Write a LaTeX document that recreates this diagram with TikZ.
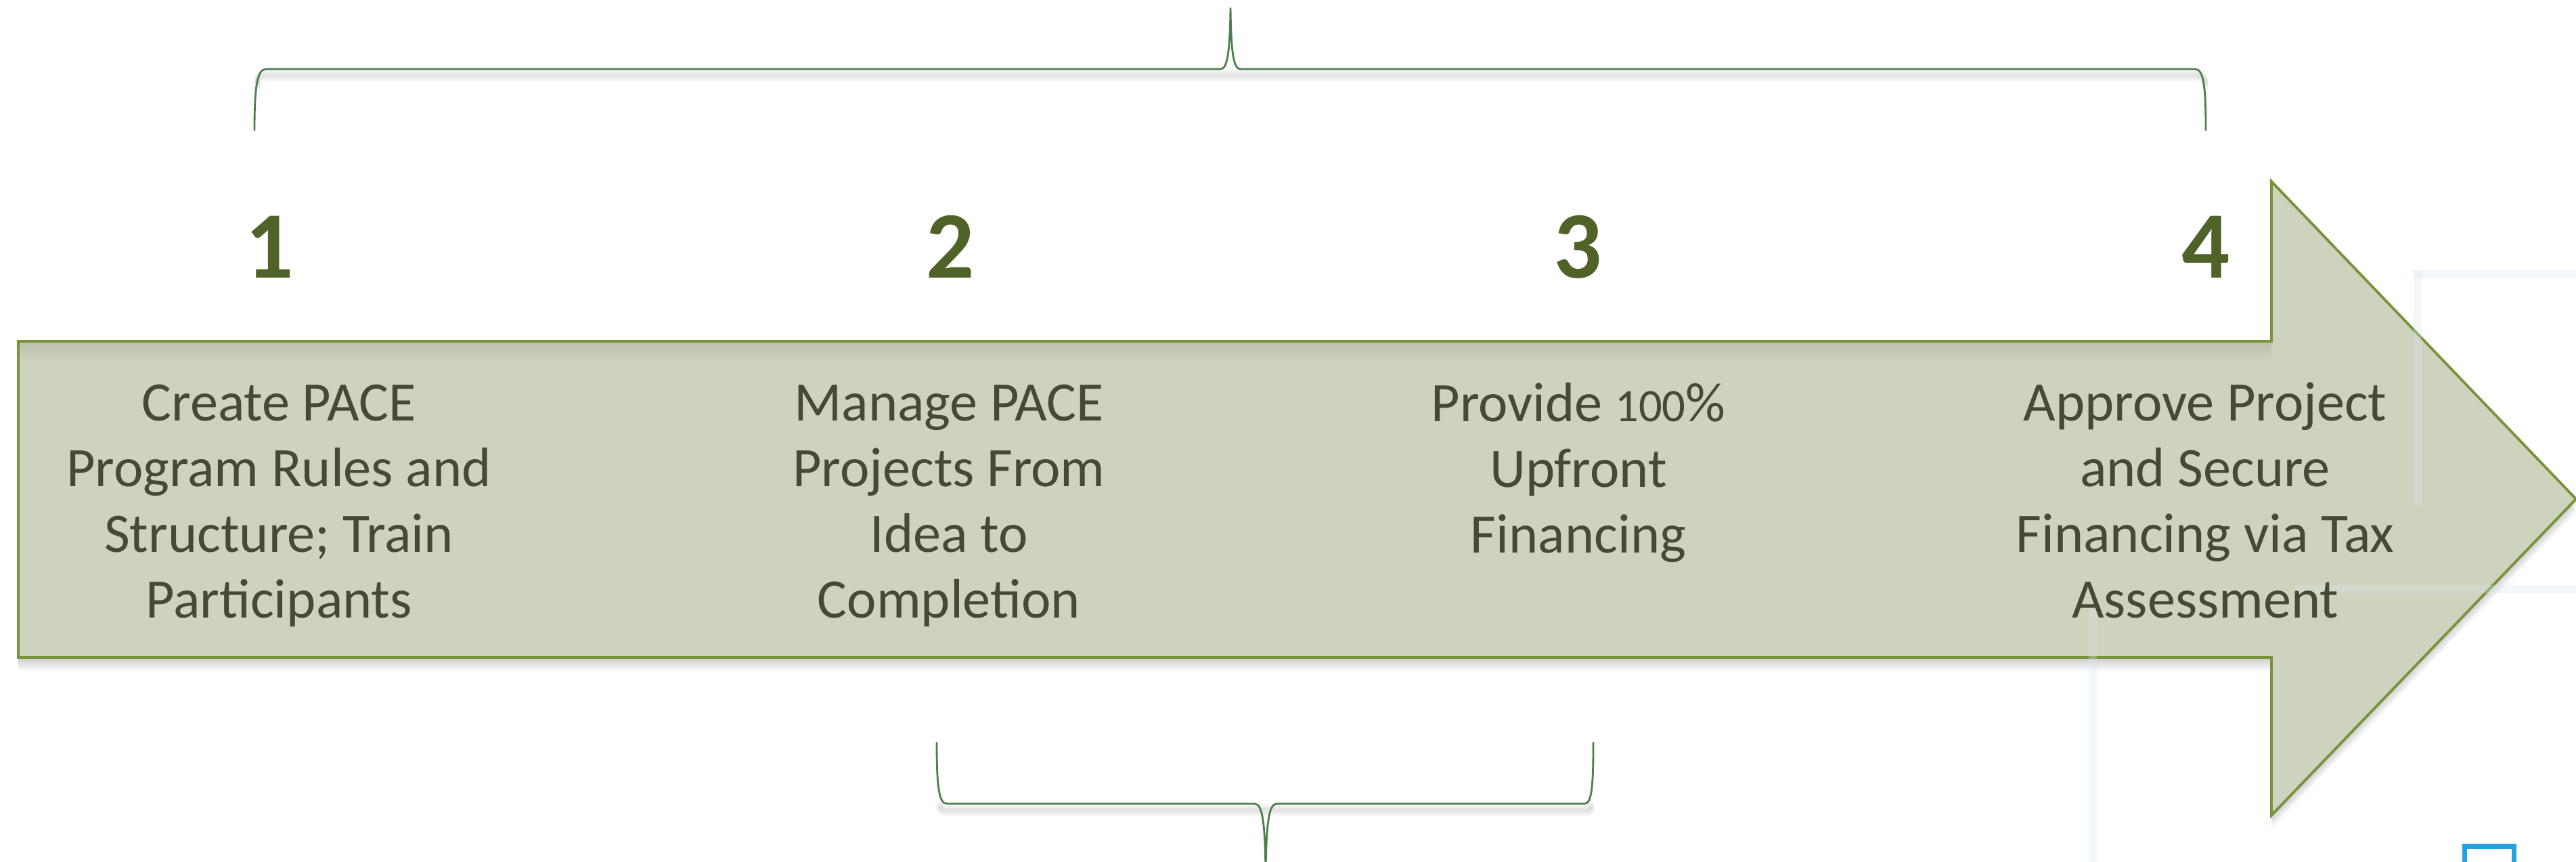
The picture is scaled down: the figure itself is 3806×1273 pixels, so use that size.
\documentclass[tikz,border=0pt]{standalone}
\usepackage{fontspec}
\setmainfont{Carlito}
\definecolor{arrowfill}{HTML}{CED3BE}
\definecolor{arrowtop}{HTML}{B9BFA8}
\definecolor{arrowedge}{HTML}{77933C}
\definecolor{stepnum}{HTML}{4F6228}
\definecolor{steptext}{HTML}{454A36}
\definecolor{bracegreen}{HTML}{4E7E4E}
\definecolor{ghostline}{HTML}{DCE6EF}
\definecolor{markblue}{HTML}{22A3DC}
% small figures standing on the baseline, like old-style numerals
\newcommand{\lowfig}[1]{{\fontsize{19.5}{27.5}\selectfont #1}}

\begin{document}
\begin{tikzpicture}[x=0.01cm,y=-0.01cm,
  arrowshape/.style={insert path={(27,504) -- (3356,504) -- (3356,268) -- (3806,737)
                                   -- (3356,1204) -- (3356,971) -- (27,971) -- cycle}},
  num/.style={font=\fontsize{40}{48}\selectfont\bfseries, text=stepnum, anchor=base, inner sep=0pt},
  desc/.style={font=\fontsize{23.4}{27.5}\selectfont, text=steptext, align=center, anchor=base, inner sep=0pt},
  brace/.style={draw=bracegreen, line width=0.8pt, line join=round, line cap=round},
  braceshade/.style={draw=black, line width=2.5pt, opacity=0.035},
  ghost/.style={draw=ghostline, line width=3.2pt, opacity=0.3}]

\clip (0,0) rectangle (3806,1273);
\fill[white] (0,0) rectangle (3806,1273);

% soft drop shadow under the big arrow
\foreach \k in {1,...,8}
  \fill[black, opacity=0.022, shift={(0,2.5*\k)}] [arrowshape];

% the process arrow
\fill[arrowfill] [arrowshape];
\begin{scope}
  \clip [arrowshape];
  \shade[top color=arrowtop, bottom color=arrowfill] (27,504) rectangle (3356,534);
\end{scope}
\draw[arrowedge, line width=1.1pt, line join=miter] [arrowshape];

% faint frame lines lying across the right end
\draw[ghost] (3092,900) -- (3092,1273);
\draw[ghost] (3572,400) -- (3572,745);
\draw[ghost] (3566,405) -- (3806,405);
\draw[ghost] (3390,870) -- (3806,870);

% small blue marker in the corner
\draw[markblue, line width=2pt] (3641,1300) -- (3641,1250) -- (3714,1250) -- (3714,1300);

% top brace spanning steps 1 to 4
\foreach \k in {1,...,4}
  \draw[braceshade, shift={(0,3*\k)}] (380,120) .. controls (380,104) and (384,104) .. (395,104) -- (3241,104) .. controls (3254,104) and (3258,104) .. (3258,120);
\draw[brace] (376,192) .. controls (376,128) and (380,102) .. (393,102) -- (1803,102)
  .. controls (1813,102) and (1817,82) .. (1818,12)
  .. controls (1819,82) and (1823,102) .. (1833,102) -- (3243,102)
  .. controls (3256,102) and (3259,128) .. (3259,192);

% bottom brace spanning steps 2 to 3
\foreach \k in {1,...,4}
  \draw[braceshade, shift={(0,3*\k)}] (1388,1180) .. controls (1390,1189) and (1392,1189) .. (1400,1189) -- (2340,1189) .. controls (2348,1189) and (2350,1189) .. (2352,1180);
\draw[brace] (1384,1097) .. controls (1384,1160) and (1387,1187) .. (1399,1187) -- (1853,1187)
  .. controls (1864,1187) and (1869,1205) .. (1870,1290)
  .. controls (1871,1205) and (1876,1187) .. (1887,1187) -- (2341,1187)
  .. controls (2352,1187) and (2354,1160) .. (2354,1097);

% step numbers
\node[num] (n1) at (398,410) {1};
\node[num] (n2) at (1404,410) {2};
\node[num] (n3) at (2331,410) {3};
\node[num] (n4) at (3259,410) {4};

% step descriptions (the base anchor sits on the last line)
\node[desc] (d1) at (412,912) {Create PACE\\Program Rules and\\Structure; Train\\Participants};
\node[desc] (d2) at (1402,912) {Manage PACE\\Projects From\\Idea to\\Completion};
\node[desc] (d3) at (2332,816) {Provide \lowfig{100}\%\\Upfront\\Financing};
\node[desc] (d4) at (3258,912) {Approve Project\\and Secure\\Financing via Tax\\Assessment};
\end{tikzpicture}
\end{document}
